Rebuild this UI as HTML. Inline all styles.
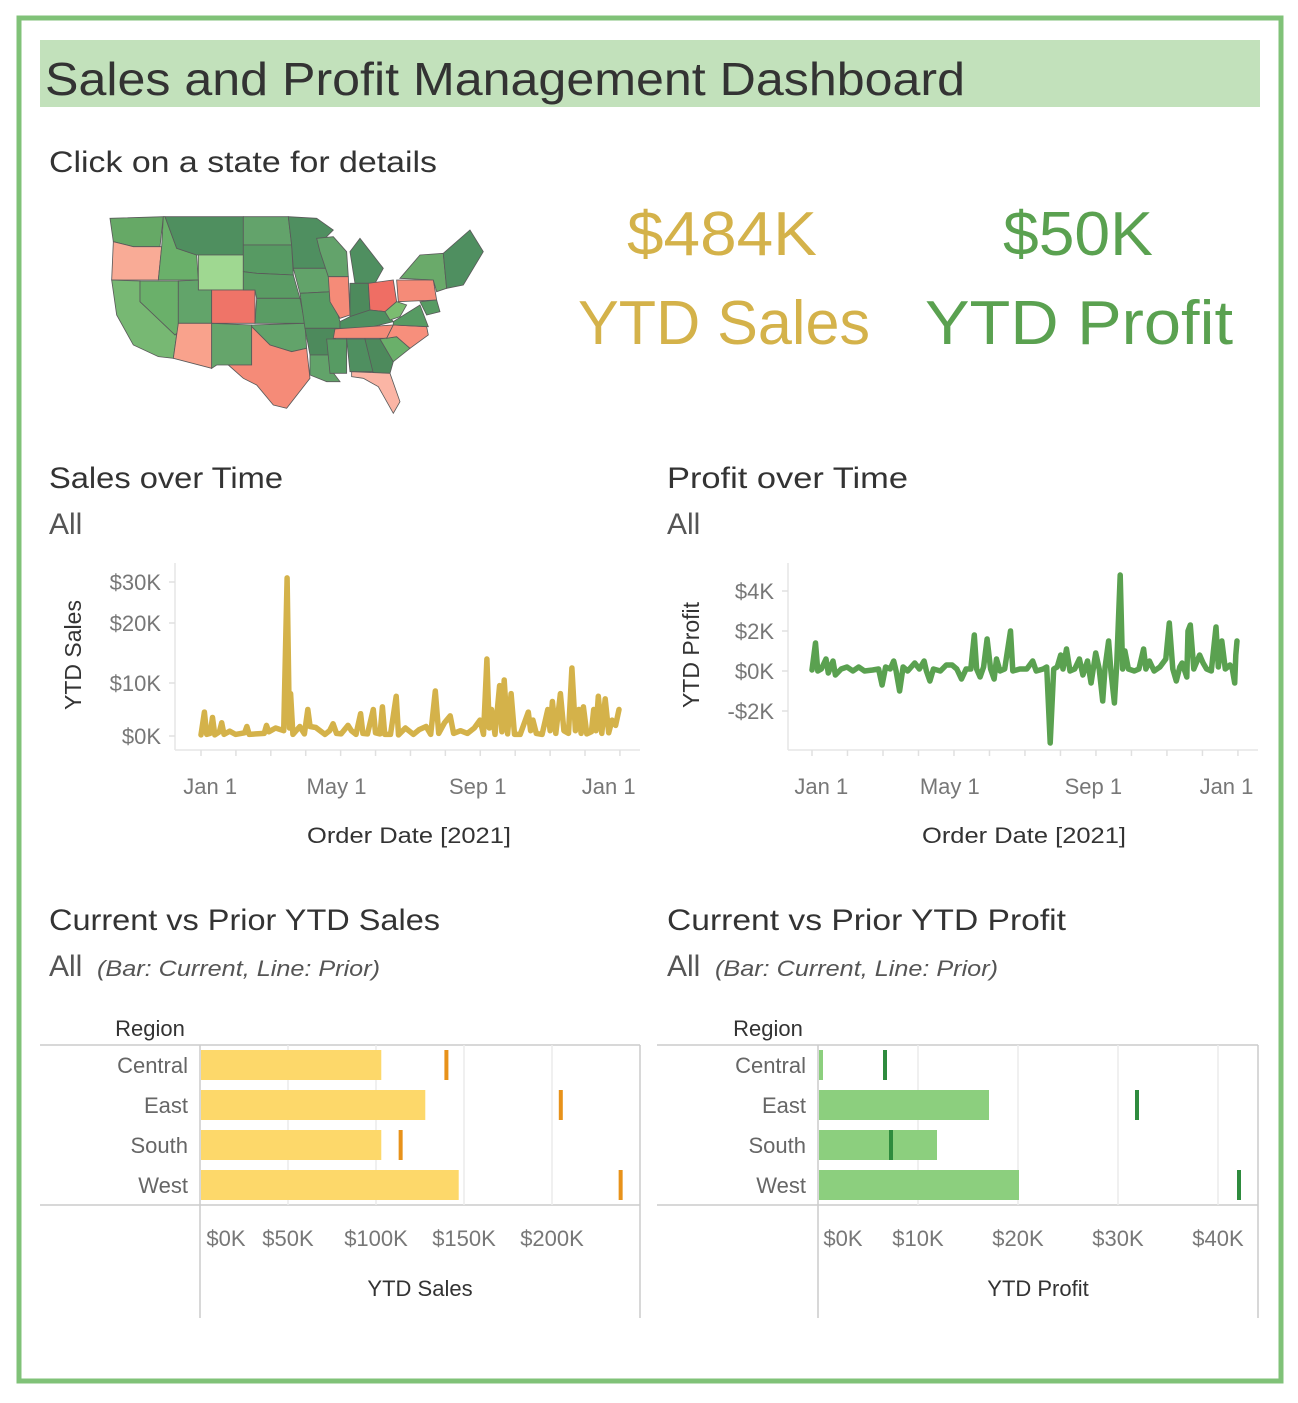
<!DOCTYPE html>
<html><head><meta charset="utf-8"><style>
body{margin:0;background:#fff;}
svg text{font-family:"Liberation Sans","DejaVu Sans",sans-serif;}
</style></head><body>
<svg id="dash" width="1298" height="1398" xmlns="http://www.w3.org/2000/svg">
<rect x="19" y="18" width="1262" height="1363" fill="#fff" stroke="#80c278" stroke-width="5"/>
<rect x="40" y="40" width="1220" height="67" fill="#c2e1bb"/>
<text x="45" y="95" font-size="46" fill="#333" textLength="920" lengthAdjust="spacingAndGlyphs">Sales and Profit Management Dashboard</text>
<text x="49" y="172" font-size="30" fill="#333" textLength="388" lengthAdjust="spacingAndGlyphs">Click on a state for details</text>

<g transform="translate(100,205) scale(0.3333)" stroke="#5a5a5a" stroke-width="2.5">
<polygon points="30,40 190,35 180,125 100,125 40,110" fill="#66a966"/>
<polygon points="40,110 100,125 185,125 175,225 35,225" fill="#f9ab96"/>
<polygon points="35,225 120,228 120,290 230,390 220,460 175,455 100,420 50,330" fill="#77b873"/>
<polygon points="120,228 235,228 235,380 225,390 120,290" fill="#6ab06a"/>
<polygon points="190,35 195,35 230,130 290,150 295,225 175,225 185,125" fill="#6ab06a"/>
<polygon points="195,35 430,35 430,150 290,150 230,130" fill="#4f8f5f"/>
<polygon points="295,150 430,150 430,255 295,255" fill="#9fd891"/>
<polygon points="235,228 295,225 295,255 335,255 335,355 235,355" fill="#62a46a"/>
<polygon points="335,255 465,255 465,355 335,355" fill="#ef7468"/>
<polygon points="235,355 335,355 335,490 220,460 230,390" fill="#f9a28c"/>
<polygon points="335,355 455,360 455,480 385,480 350,480 335,490" fill="#65a56b"/>
<polygon points="430,35 565,35 575,120 430,120" fill="#63a36b"/>
<polygon points="430,120 575,120 580,210 470,205 430,200" fill="#579a63"/>
<polygon points="430,200 470,205 580,210 600,280 470,280 465,255 430,255" fill="#5a9c64"/>
<polygon points="470,280 600,280 615,355 465,355" fill="#5a9c64"/>
<polygon points="455,360 615,355 620,430 575,440 510,420 455,365" fill="#62a36a"/>
<polygon points="455,365 510,420 575,440 620,430 630,520 560,610 520,600 470,540 430,520 385,480 455,480" fill="#f58b78"/>
<polygon points="565,35 650,40 700,75 655,120 680,190 580,190 575,120" fill="#4f8f60"/>
<polygon points="580,190 685,190 695,260 600,265" fill="#62a36a"/>
<polygon points="600,265 695,260 720,350 720,370 615,370" fill="#579b63"/>
<polygon points="615,370 710,370 700,450 630,450" fill="#4d8a5c"/>
<polygon points="630,450 700,450 690,490 720,530 680,530 630,510" fill="#62a36a"/>
<polygon points="650,100 700,95 740,140 745,215 685,215 660,140" fill="#63a36b"/>
<polygon points="685,215 745,215 750,330 720,340 690,290" fill="#f58b78"/>
<polygon points="750,140 780,100 850,190 825,235 765,235" fill="#4f8f60"/>
<polygon points="750,235 805,235 810,315 750,335" fill="#4d8a5c"/>
<polygon points="805,235 880,225 890,290 855,320 810,315" fill="#ef6e64"/>
<polygon points="720,350 750,335 810,315 855,320 880,350 800,370 720,370" fill="#4f8f60"/>
<polygon points="705,372 880,360 860,400 700,400" fill="#f58b78"/>
<polygon points="680,402 740,402 740,505 690,505" fill="#579b63"/>
<polygon points="740,402 795,402 820,500 750,500" fill="#4f8f60"/>
<polygon points="795,402 840,402 880,470 870,505 820,505" fill="#4d8a5c"/>
<polygon points="755,500 870,505 900,590 880,625 835,545 790,520 755,515" fill="#fbb5a5"/>
<polygon points="840,402 890,395 930,430 880,470" fill="#6ab06a"/>
<polygon points="860,400 880,360 980,365 985,390 930,430 890,395" fill="#f78f7c"/>
<polygon points="880,350 960,300 985,365 880,360" fill="#579b63"/>
<polygon points="855,320 890,290 920,300 900,335 870,345" fill="#7bbc70"/>
<polygon points="890,225 1000,225 1010,285 895,290" fill="#f58b78"/>
<polygon points="900,220 960,150 1030,145 1040,250 1010,260 1000,225" fill="#6aaa6a"/>
<polygon points="1030,145 1110,75 1150,140 1090,240 1040,250" fill="#4f8f60"/>
<polygon points="960,290 1010,285 1020,320 980,330" fill="#579b63"/>
</g>

<text x="722" y="255" font-size="62" fill="#d4b24a" text-anchor="middle" textLength="190" lengthAdjust="spacingAndGlyphs">$484K</text>
<text x="724" y="344" font-size="62" fill="#d4b24a" text-anchor="middle" textLength="292" lengthAdjust="spacingAndGlyphs">YTD Sales</text>
<text x="1078" y="255" font-size="62" fill="#5aa150" text-anchor="middle" textLength="150" lengthAdjust="spacingAndGlyphs">$50K</text>
<text x="1079" y="344" font-size="62" fill="#5aa150" text-anchor="middle" textLength="308" lengthAdjust="spacingAndGlyphs">YTD Profit</text>

<text x="49" y="488" font-size="30" fill="#333" textLength="234" lengthAdjust="spacingAndGlyphs">Sales over Time</text>
<text x="49" y="534" font-size="30" fill="#555">All</text>
<text x="667" y="488" font-size="30" fill="#333" textLength="241" lengthAdjust="spacingAndGlyphs">Profit over Time</text>
<text x="667" y="534" font-size="30" fill="#555">All</text>

<text x="49" y="930" font-size="30" fill="#333" textLength="391" lengthAdjust="spacingAndGlyphs">Current vs Prior YTD Sales</text>
<text x="49" y="976" font-size="30" fill="#555">All</text>
<text x="97" y="976" font-size="22" font-style="italic" fill="#555" textLength="283" lengthAdjust="spacingAndGlyphs">(Bar: Current, Line: Prior)</text>
<text x="667" y="930" font-size="30" fill="#333" textLength="399" lengthAdjust="spacingAndGlyphs">Current vs Prior YTD Profit</text>
<text x="667" y="976" font-size="30" fill="#555">All</text>
<text x="715" y="976" font-size="22" font-style="italic" fill="#555" textLength="283" lengthAdjust="spacingAndGlyphs">(Bar: Current, Line: Prior)</text>

<g id="salesLine"></g>
<g id="profitLine"></g>
<g id="salesBar"></g>
<g id="profitBar"></g>
</svg>
<script>
const salesDays=[0,3,5,8,10,12,16,18,20,25,30,38,40,42,48,55,57,59,65,72,75,77,78,80,86,90,93,95,100,108,112,115,118,122,128,131,135,139,141,145,150,152,156,158,160,165,170,172,178,185,190,196,200,204,207,212,217,220,226,232,238,243,246,249,251,253,256,260,262,264,267,270,273,278,285,287,289,292,297,302,304,306,309,313,316,320,323,326,329,331,333,336,340,342,344,346,349,352,355,358,361,364];
const salesVals=[0.2,4.5,0.3,0.5,3.5,0.2,0.8,2.5,0.3,0.9,0.3,0.6,1.8,0.3,0.4,0.5,2.0,0.8,1.5,1.0,31,1.5,8,0.3,1.8,0.4,5,1.8,1.6,0.3,1.0,2.3,0.5,0.4,2.0,1.0,0.3,4.2,0.5,0.4,5,0.6,0.4,5.5,0.3,0.3,7.5,0.2,1.5,0.3,1.2,1.8,0.3,8.5,0.5,2.5,3.8,0.5,1.0,0.5,1.5,3,0.3,14,1.5,5,0.3,9.5,0.8,10.5,0.4,8,0.3,0.3,4.5,1.0,3,0.5,0.3,5,1.0,6.5,0.5,8,1.0,0.5,12.5,1.0,5,0.5,5.5,0.4,0.8,5,1.0,7.5,0.5,7,0.6,3,2,5];
const salesTickVals=[0,10,20,30];
const salesTickLabels=["$0K","$10K","$20K","$30K"];
const profitDays=[0,3,5,8,12,14,18,20,25,30,35,40,45,52,57,60,63,67,70,72,75,78,82,88,92,96,98,101,104,110,115,120,124,128,132,136,139,141,144,147,150,153,156,158,161,165,170,172,178,184,189,192,198,201,204,207,210,213,215,218,221,225,229,232,236,239,243,246,249,251,254,256,259,261,264,266,268,271,276,280,284,286,289,293,298,303,306,309,312,315,317,321,322,324,327,332,335,338,342,346,348,351,354,358,360,362,363,364];
const profitVals=[0.05,1.4,0,0.1,0.6,-0.1,0.5,-0.2,0.1,0.2,0,0.2,0,0.05,0.1,-0.7,0.2,0.1,0.5,0,-1.0,0.2,0,0.4,0.1,0.5,0,-0.5,0.1,0,0.3,0.3,0.1,-0.4,0.1,0.1,1.8,0.1,-0.3,0.2,1.6,0.1,-0.4,0.6,0,0.1,2.0,0,0.1,0.1,0.5,0,0.1,0.2,-3.6,0.1,0.2,0.8,0.1,1.1,0,0.1,0.6,-0.2,0.5,-0.6,0.9,0.1,-1.5,0.2,1.5,0,-1.6,0.3,4.8,0.1,1.0,0.1,0,0.1,1.1,0.1,0.5,0,0.2,0.6,2.4,0.1,-0.5,0.2,0.4,-0.3,2.0,2.3,0.1,0.8,0.4,0.1,0,2.2,0.2,1.5,0.1,0.3,0.1,-0.6,0.8,1.5];
const profitTickVals=[-2,0,2,4];
const profitTickLabels=["-$2K","$0K","$2K","$4K"];
const monthLabels=["Jan 1","May 1","Sep 1","Jan 1"];
const monthDays=[8,118,241,355];
const regions=["Central","East","South","West"];
const salesCurrent=[103,128,103,147];
const salesPrior=[140,205,114,239];
const salesAxisVals=[0,50,100,150,200];
const salesAxisLabels=["$0K","$50K","$100K","$150K","$200K"];
const profitCurrent=[0.5,17.1,11.9,20.1];
const profitPrior=[6.7,31.9,7.3,42.1];
const profitAxisVals=[0,10,20,30,40];
const profitAxisLabels=["$0K","$10K","$20K","$30K","$40K"];

const NS="http://www.w3.org/2000/svg";
function mk(parent,tag,attrs,txt){const e=document.createElementNS(NS,tag);for(const k in attrs)e.setAttribute(k,attrs[k]);if(txt!==undefined)e.textContent=txt;parent.appendChild(e);return e;}
function interp(v,vals,px){for(let i=0;i<vals.length-1;i++){if(v<=vals[i+1]||i===vals.length-2){const t=(v-vals[i])/(vals[i+1]-vals[i]);return px[i]+t*(px[i+1]-px[i]);}}}

function lineChart(g,o){
  const x=d=>o.x0+d/364*(o.x1-o.x0);
  let a=mk(g,'line',{x1:o.axL,y1:o.axT,x2:o.axL,y2:o.axB,stroke:'#e6e6e6','stroke-width':1.5});
  
  
  a=mk(g,'line',{x1:o.axL,y1:o.axB,x2:o.axR,y2:o.axB,stroke:'#e6e6e6','stroke-width':1.5});
  
  
  o.tickVals.forEach((v,i)=>{const yy=o.y(v);
    const tk=mk(g,'line',{x1:o.axL-6,y1:yy,x2:o.axL,y2:yy,stroke:'#e0e0e0','stroke-width':1.5});
    
    
    const t=mk(g,'text',{x:o.axL-14,y:yy+8,'font-size':22,fill:'#777','text-anchor':'end'},o.tickLabels[i]);
    
    });
  for(let m=0;m<=12;m++){const xx=x(m*30.4);
    const tk=mk(g,'line',{x1:xx,y1:o.axB,x2:xx,y2:o.axB+6,stroke:'#e0e0e0','stroke-width':1.5});
    
    }
  monthDays.forEach((d,i)=>{const t=mk(g,'text',{x:x(d),y:o.axB+44,'font-size':22,fill:'#777','text-anchor':'middle'},monthLabels[i]);
    
    });
  let t=mk(g,'text',{x:o.xtX,y:o.axB+93,'font-size':22,fill:'#333','text-anchor':'middle',textLength:204,lengthAdjust:'spacingAndGlyphs'},'Order Date [2021]');
  
  
  t=mk(g,'text',{x:0,y:0,'font-size':23,fill:'#333','text-anchor':'middle',transform:`translate(${o.titleX},${o.titleY}) rotate(-90)`},o.title);
  
  
  const n=Math.min(o.days.length,o.vals.length);
  let d='';for(let i=0;i<n;i++)d+=(i?'L':'M')+x(o.days[i]).toFixed(1)+','+o.y(o.vals[i]).toFixed(1);
  const p=mk(g,'path',{d:d,fill:'none',stroke:o.color,'stroke-width':5.5,'stroke-linejoin':'round','stroke-linecap':'round'});
  
  
}
lineChart(document.getElementById('salesLine'),{x0:201,x1:619,axL:175,axR:640,axT:563,axB:750,xtX:409,
  y:v=>interp(v,salesTickVals,[736,683,623,582]),tickVals:salesTickVals,tickLabels:salesTickLabels,
  days:salesDays,vals:salesVals,color:'#d4b24a',title:'YTD Sales',titleX:81,titleY:655});
lineChart(document.getElementById('profitLine'),{x0:812,x1:1237,axL:788,axR:1258,axT:563,axB:750,xtX:1024,
  y:v=>671-v*20,tickVals:profitTickVals,tickLabels:profitTickLabels,
  days:profitDays,vals:profitVals,color:'#5aa150',title:'YTD Profit',titleX:699,titleY:655});

function barChart(g,o){
  const x=v=>o.x0+v*o.k;
  let l;
  l=mk(g,'line',{x1:o.left,y1:1045,x2:o.right,y2:1045,stroke:'#ccc','stroke-width':1.5});
  
  
  l=mk(g,'line',{x1:o.left,y1:1205,x2:o.right,y2:1205,stroke:'#ccc','stroke-width':1.5});
  
  
  l=mk(g,'line',{x1:o.x0,y1:1045,x2:o.x0,y2:1318,stroke:'#ccc','stroke-width':1.5});
  
  
  l=mk(g,'line',{x1:o.right,y1:1045,x2:o.right,y2:1318,stroke:'#ccc','stroke-width':1.5});
  
  
  o.axisVals.forEach((v,i)=>{
    if(v>0){const gl=mk(g,'line',{x1:x(v),y1:1045,x2:x(v),y2:1205,stroke:'#ececec','stroke-width':1.5});
      
      }
    const t=mk(g,'text',{x:x(v)+(i===0?o.zeroOff:0),y:1246,'font-size':22,fill:'#777','text-anchor':'middle'},o.axisLabels[i]);
    
    });
  let t=mk(g,'text',{x:o.regionX,y:1036,'font-size':22,fill:'#333','text-anchor':'middle'},'Region');
  
  
  t=mk(g,'text',{x:(o.x0+o.right)/2,y:1296,'font-size':22,fill:'#333','text-anchor':'middle'},o.title);
  
  
  regions.forEach((r,i)=>{const cy=1065+i*40;
    const lb=mk(g,'text',{x:o.x0-12,y:cy+8,'font-size':22,fill:'#666','text-anchor':'end'},r);
    
    
    const b=mk(g,'rect',{x:o.x0+1,y:cy-15,width:Math.max(0,x(o.cur[i])-o.x0-1),height:30,fill:o.barColor});
    
    
    const p=mk(g,'rect',{x:x(o.prior[i])-2,y:cy-15,width:4,height:30,fill:o.lineColor});
    
    });
}
barChart(document.getElementById('salesBar'),{x0:200,k:1.76,left:40,right:640,zeroOff:26,regionX:150,
  cur:salesCurrent,prior:salesPrior,axisVals:salesAxisVals,axisLabels:salesAxisLabels,barColor:'#fdd86a',lineColor:'#e8921a',title:'YTD Sales'});
barChart(document.getElementById('profitBar'),{x0:818,k:10,left:657,right:1258,zeroOff:25,regionX:768,
  cur:profitCurrent,prior:profitPrior,axisVals:profitAxisVals,axisLabels:profitAxisLabels,barColor:'#8ccf7e',lineColor:'#2e8b3e',title:'YTD Profit'});
</script>
</body></html>
